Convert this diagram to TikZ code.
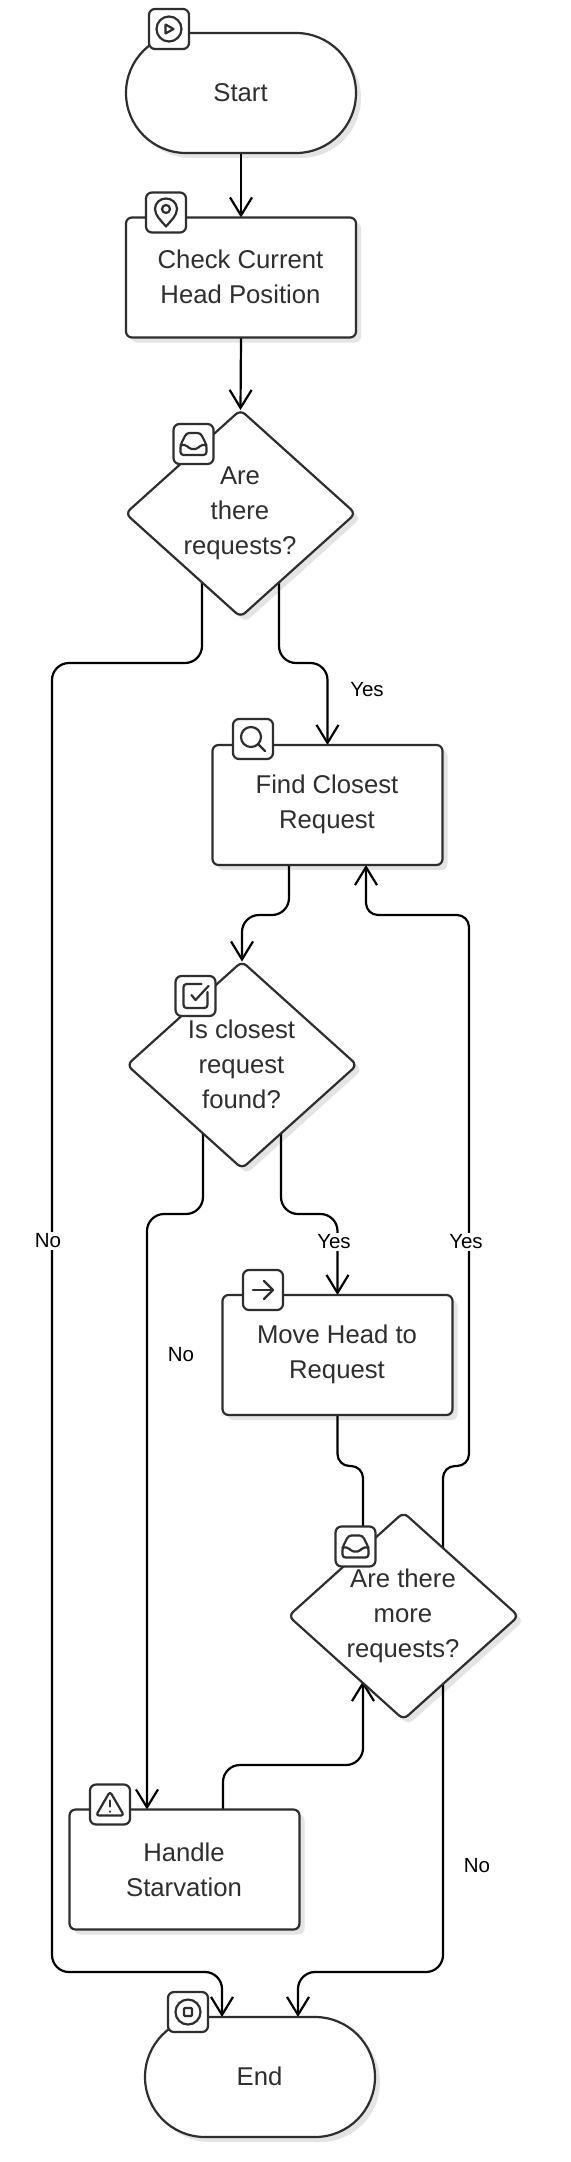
\documentclass[tikz,border=0pt]{standalone}
\usepackage{fontspec}
\setmainfont{Liberation Sans}
\usetikzlibrary{arrows.meta,shapes.geometric}
\pgfdeclarelayer{shad}
\pgfdeclarelayer{conn}
\pgfsetlayers{shad,conn,main}
\definecolor{ink}{HTML}{2E2E2E}
\definecolor{shad}{HTML}{E4E4E4}
\tikzset{
  x=1pt,y=-1pt,
  base/.style={outer sep=0pt,inner sep=0pt,line width=2.2pt,draw=ink,fill=white,text=ink,align=center},
  stadium/.style={base,rectangle,minimum width=230pt,minimum height=120pt,rounded corners=60pt},
  procbox/.style={base,rectangle,minimum width=230pt,minimum height=120pt,rounded corners=6pt},
  choice/.style={base,diamond,aspect=1.11,minimum width=230pt,minimum height=207pt,rounded corners=6pt},
  dtext/.style={outer sep=0pt,inner sep=0pt,text=ink,align=center,font=\fontsize{25.7}{35}\selectfont},
  iconbox/.style={outer sep=0pt,inner sep=0pt,rectangle,line width=2.2pt,draw=ink,fill=white,minimum width=40pt,minimum height=40pt,rounded corners=6pt},
  glyph/.style={line width=2.2pt,draw=ink,line join=round,line cap=round},
  shadowed/.style={draw=none,fill=shad,xshift=5pt,yshift=-5pt},
  conn/.style={line width=2.2pt,draw=black,rounded corners=17pt,-{Straight Barb[length=18pt,width=22pt,line width=2.2pt]}},
  tight/.style={rounded corners=12pt},
  elabel/.style={inner sep=2pt,text=black,font=\fontsize{20.5}{24}\selectfont},
  elabelw/.style={elabel,fill=white},
}
\begin{document}
\begin{tikzpicture}
\useasboundingbox (0,0) rectangle (570,2162);
% shapes
\node[stadium] (start) at (241,93) {};
\node[procbox] (check) at (241,277.5) {};
\node[choice] (d1) at (240.5,513.5) {};
\node[procbox] (find) at (327.5,805) {};
\node[choice] (d2) at (242,1065) {};
\node[procbox] (move) at (337.5,1355) {};
\node[choice] (d3) at (403.5,1616) {};
\node[procbox] (handle) at (184.5,1869.5) {};
\node[stadium] (end) at (260,2077) {};
% shadows
\begin{pgfonlayer}{shad}
\node[stadium,shadowed] (s1) at (241,93) {};
\node[procbox,shadowed] (s2) at (241,277.5) {};
\node[choice,shadowed] (s3) at (240.5,513.5) {};
\node[procbox,shadowed] (s4) at (327.5,805) {};
\node[choice,shadowed] (s5) at (242,1065) {};
\node[procbox,shadowed] (s6) at (337.5,1355) {};
\node[choice,shadowed] (s7) at (403.5,1616) {};
\node[procbox,shadowed] (s8) at (184.5,1869.5) {};
\node[stadium,shadowed] (s9) at (260,2077) {};
\end{pgfonlayer}
% connectors
\begin{pgfonlayer}{conn}
\draw[conn] (start.south) -- (check.north);
\draw[conn] (check.south) -- (d1.north);
\draw[conn] ([xshift=38.5pt]d1.center) -- (279,663) -- (327.5,663) -- (find.north);
\draw[conn] ([xshift=-38.5pt]d1.center) -- (202,663) -- (52,663) -- (52,1972) -- (222,1972) -- ([xshift=-38pt]end.north);
\draw[conn] ([xshift=-38.5pt]find.south) -- (289,915) -- (242,915) -- (d2.north);
\draw[conn] ([xshift=-39pt]d2.center) -- (203,1214) -- (147,1214) -- ([xshift=-37.5pt]handle.north);
\draw[conn] ([xshift=39pt]d2.center) -- (281,1214) -- (337.5,1214) -- (move.north);
\draw[conn,tight] (move.south) -- (337.5,1466) -- (363,1466) -- ([xshift=-40.5pt,yshift=65pt]d3.center);
\draw[conn,tight] ([xshift=39.5pt]d3.center) -- (443,1466) -- (469,1466) -- (469,915) -- (366,915) -- ([xshift=38.5pt]find.south);
\draw[conn] ([xshift=38.5pt]handle.north) -- (223,1765) -- (363,1765) -- ([xshift=-40.5pt,yshift=-65pt]d3.center);
\draw[conn] ([xshift=39.5pt]d3.center) -- (443,1972) -- (298,1972) -- ([xshift=38pt]end.north);
\end{pgfonlayer}
% texts
\node[dtext] (tstart) at (240.5,92.5) {Start};
\node[dtext] (tcheck) at (240.5,277) {Check Current\\Head Position};
\node[dtext] (td1) at (240,513.5) {Are\\there\\requests?};
\node[dtext] (tfind) at (327,804.5) {Find Closest\\Request};
\node[dtext] (td2) at (241.5,1064.5) {Is closest\\request\\found?};
\node[dtext] (tmove) at (337,1354.5) {Move Head to\\Request};
\node[dtext] (td3) at (403,1615.5) {Are there\\more\\requests?};
\node[dtext] (thandle) at (184,1869.5) {Handle\\Starvation};
\node[dtext] (tend) at (259.5,2076.5) {End};
% edge labels
\node[elabel] (l1) at (367,690) {Yes};
\node[elabelw] (l2) at (48,1241) {No};
\node[elabelw] (l3) at (334,1242) {Yes};
\node[elabelw] (l4) at (466,1242) {Yes};
\node[elabel] (l5) at (181,1355) {No};
\node[elabel] (l6) at (477,1866) {No};
% icons
\node[iconbox] (i1) at (169,29) {};
\begin{scope}[shift={(i1.center)},glyph]
\draw (0,0) circle (12.5);
\draw (-3.5,-4.5) -- (4.5,0) -- (-3.5,4.5) -- cycle;
\end{scope}
\node[iconbox] (i2) at (166,212.5) {};
\begin{scope}[shift={(i2.center)},glyph]
\draw (0,14) .. controls (-5,8) and (-11,3) .. (-11,-3.5) .. controls (-11,-9.5) and (-6,-14) .. (0,-14) .. controls (6,-14) and (11,-9.5) .. (11,-3.5) .. controls (11,3) and (5,8) .. (0,14) -- cycle;
\draw (0,-3.5) circle (4);
\end{scope}
\node[iconbox] (i3) at (193.5,444) {};
\begin{scope}[shift={(i3.center)},glyph]
\draw[rounded corners=3pt] (-13,1) -- (-7,-11) -- (7,-11) -- (13,1) -- (13,11) -- (-13,11) -- cycle;
\draw[rounded corners=2pt] (-13,1) -- (-7,1) -- (-4,5) -- (4,5) -- (7,1) -- (13,1);
\end{scope}
\node[iconbox] (i4) at (253,739) {};
\begin{scope}[shift={(i4.center)},glyph]
\draw (-2,-2) circle (10);
\draw (5,5) -- (12,12);
\end{scope}
\node[iconbox] (i5) at (195.5,996) {};
\begin{scope}[shift={(i5.center)},glyph]
\draw[rounded corners=3pt] (12,-4) -- (12,12) -- (-12,12) -- (-12,-12) -- (6,-12);
\draw (-4,-1) -- (0,4) -- (13,-10);
\end{scope}
\node[iconbox] (i6) at (263,1290) {};
\begin{scope}[shift={(i6.center)},glyph]
\draw (-10,0) -- (10,0);
\draw (1,-9) -- (10,0) -- (1,9);
\end{scope}
\node[iconbox] (i7) at (355.5,1546.5) {};
\begin{scope}[shift={(i7.center)},glyph]
\draw[rounded corners=3pt] (-13,1) -- (-7,-11) -- (7,-11) -- (13,1) -- (13,11) -- (-13,11) -- cycle;
\draw[rounded corners=2pt] (-13,1) -- (-7,1) -- (-4,5) -- (4,5) -- (7,1) -- (13,1);
\end{scope}
\node[iconbox] (i8) at (110,1804.5) {};
\begin{scope}[shift={(i8.center)},glyph]
\draw[rounded corners=3pt] (0,-13) -- (14,11) -- (-14,11) -- cycle;
\draw (0,-4) -- (0,2);
\draw (0,7) -- (0,7.2);
\end{scope}
\node[iconbox] (i9) at (188,2012) {};
\begin{scope}[shift={(i9.center)},glyph]
\draw (0,0) circle (12.5);
\draw[rounded corners=1pt] (-4,-4) rectangle (4,4);
\end{scope}
\end{tikzpicture}
\end{document}
